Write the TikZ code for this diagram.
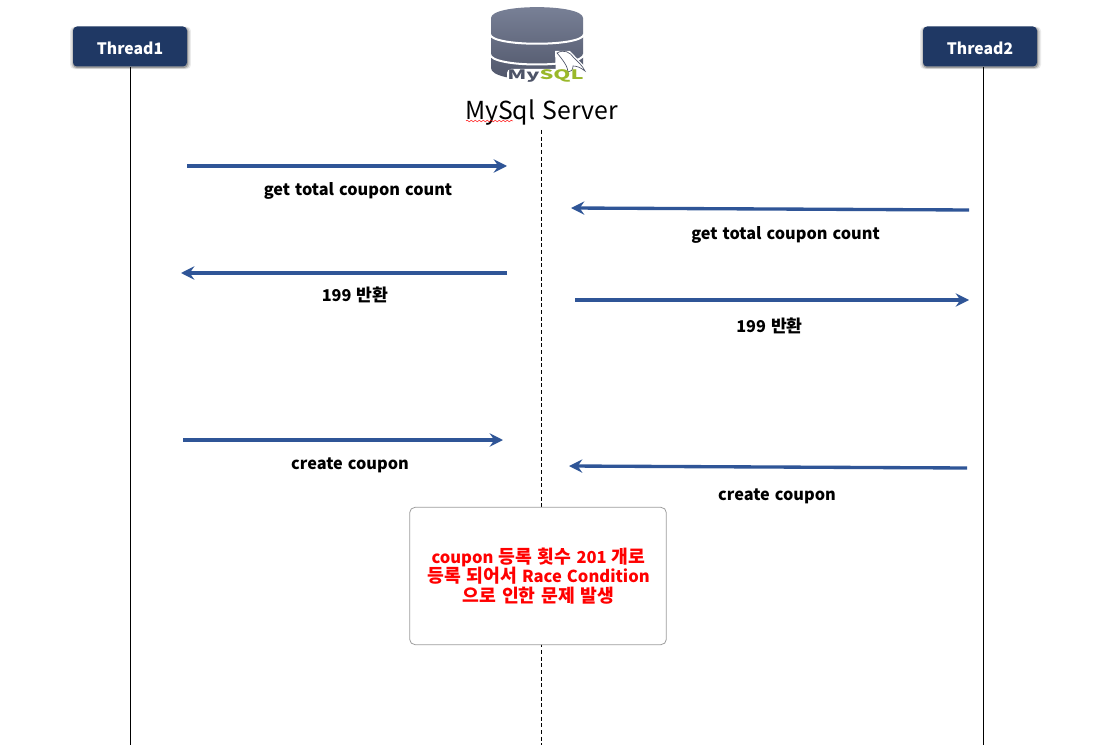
\documentclass[tikz,border=0pt]{standalone}
\usepackage{fontspec}
\setmainfont{Noto Sans CJK KR}[WordSpace=1.35]
\usetikzlibrary{arrows.meta,shadows,decorations.pathmorphing}
\definecolor{navy}{HTML}{1F3864}
\definecolor{arrowblue}{HTML}{2F5597}
\definecolor{diskA}{HTML}{7A8298}
\definecolor{diskB}{HTML}{4E5468}
\definecolor{sqlgreen}{HTML}{9AB82A}
\newcommand{\krn}[1]{{\fontsize{13.7}{14.7}\selectfont #1}}
\newcommand{\krl}[1]{{\fontsize{12.9}{14}\selectfont #1}}
\tikzset{
  threadbox/.style={draw=none,fill=navy,rounded corners=3pt,minimum width=85.5pt,minimum height=30pt,inner sep=0pt,text=white,text height=12pt,text depth=0pt,font=\fontsize{11.8}{14}\selectfont\bfseries,
    general shadow={shadow xshift=0.4pt,shadow yshift=-1pt,shadow scale=1.06,opacity=0.08,fill=black,draw=none},
    general shadow={shadow xshift=0.4pt,shadow yshift=-1pt,shadow scale=1.035,opacity=0.14,fill=black,draw=none},
    general shadow={shadow xshift=0.4pt,shadow yshift=-1pt,shadow scale=1.01,opacity=0.22,fill=black,draw=none}},
  msg/.style={draw=arrowblue,line width=2.5pt,-{Stealth[length=10pt,width=10pt,inset=3.5pt]}},
  lifeline/.style={draw=black,line width=0.6pt},
  serverline/.style={draw=black,line width=0.6pt,dash pattern=on 3pt off 2pt},
  lbl/.style={inner sep=0pt,font=\fontsize{12.2}{14}\selectfont\bfseries,text=black},
  notebox/.style={draw=black!38,line width=0.6pt,fill=white,rounded corners=4pt,minimum width=192.5pt,minimum height=103pt,inner sep=0pt},
  notetext/.style={inner sep=0pt,align=center,text=red,font=\fontsize{12.4}{14.7}\selectfont\bfseries},
}
\begin{document}
\begin{tikzpicture}[x=0.75pt,y=-0.75pt]
\useasboundingbox (0,0) rectangle (1102,745);
\fill[white] (0,0) rectangle (1102,745);

% lifelines
\coordinate (t1end) at (130,745);
\coordinate (t2start) at (983,67);
\coordinate (t2end) at (983,745);
\coordinate (sstart) at (541.5,130);
\coordinate (send) at (541.5,745);
\node[threadbox] (t1) at (130,46.5) {Thread1};
\node[threadbox] (t2) at (980,46.5) {Thread2};
\draw[lifeline] (t1.south) -- (t1end);
\draw[lifeline] (t2start) -- (t2end);
\draw[serverline] (sstart) -- (send);

% database icon
\shade[top color=diskA,bottom color=diskB]
  (491,18) .. controls (491,3.5) and (583,3.5) .. (583,18)
  -- (583,68) .. controls (583,84) and (491,84) .. (491,68) -- cycle;
\draw[white,line width=1.5pt] (490,34) .. controls (490,47) and (584,47) .. (584,34);
\draw[white,line width=1.5pt] (490,54) .. controls (490,68) and (584,68) .. (584,54);
% logo backing
\fill[white,rounded corners=3pt] (507,69) rectangle (588,82);
% dolphin
\fill[white] (555,51) -- (570,51) -- (588,70) -- (588,76) -- (556,76) -- cycle;
\filldraw[fill=white,draw=diskB,line width=0.5pt] (557,53)
  .. controls (564,49) and (570,52) .. (574,58)
  .. controls (578,62) and (582,65) .. (585,71)
  .. controls (580,67) and (576,66) .. (573,66)
  .. controls (573,70) and (571,72) .. (568,72)
  .. controls (568,67) and (563,60) .. (557,53) -- cycle;
\node[inner sep=0pt,anchor=base west,font=\fontsize{11.5}{12}\selectfont\bfseries] (logo) at (507,79.5)
  {\scalebox{1.42}[0.85]{\textcolor{diskB}{My}\textcolor{sqlgreen}{SQL}}};

% server label
\node[inner sep=0pt,font=\fontsize{18.6}{22}\selectfont] (server) at (541.5,113) {MySql Server};
\coordinate (wa) at (466,121);
\coordinate (wb) at (513,121);
\draw[red,line width=0.35pt,decorate,decoration={snake,amplitude=0.6pt,segment length=3pt}] (wa) -- (wb);

% messages
\coordinate (a1s) at (187,166); \coordinate (a1e) at (507,166);
\coordinate (a2s) at (969,210); \coordinate (a2e) at (571,208);
\coordinate (a3s) at (507,273); \coordinate (a3e) at (181,273);
\coordinate (a4s) at (575,300); \coordinate (a4e) at (969,300);
\coordinate (a5s) at (183,440); \coordinate (a5e) at (503,440);
\coordinate (a6s) at (967,468); \coordinate (a6e) at (569,466);
\draw[msg] (a1s) -- (a1e);
\draw[msg] (a2s) -- (a2e);
\draw[msg] (a3s) -- (a3e);
\draw[msg] (a4s) -- (a4e);
\draw[msg] (a5s) -- (a5e);
\draw[msg] (a6s) -- (a6e);

\node[lbl] (l1) at (358,191) {get total coupon count};
\node[lbl] (l2) at (785.5,235) {get total coupon count};
\node[lbl] (l3) at (355,294.5) {199 \krl{반환}};
\node[lbl] (l4) at (769.5,325.5) {199 \krl{반환}};
\node[lbl] (l5) at (350,465) {create coupon};
\node[lbl] (l6) at (777,496) {create coupon};

% note
\node[notebox] (note) at (538,576) {};
\node[notetext] (notet) at (538.5,576) {coupon \krn{등록 횟수} 201 \krn{개로}\\\krn{등록 되어서} Race Condition\\\krn{으로 인한 문제 발생}};
\end{tikzpicture}
\end{document}
